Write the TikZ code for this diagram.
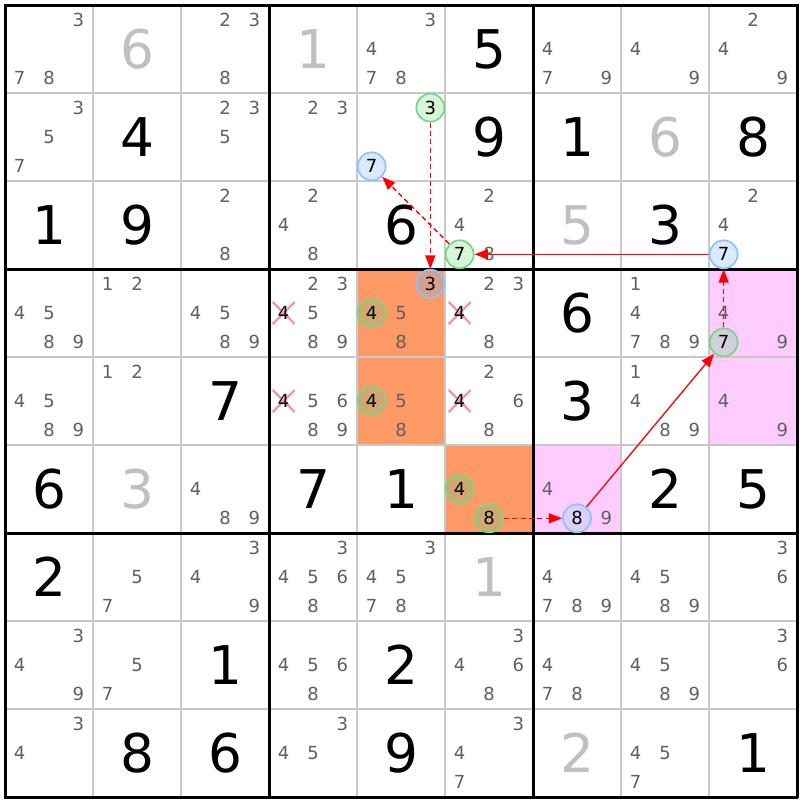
\documentclass[tikz,border=0pt]{standalone}
\usepackage{fontspec}
\setmainfont{DejaVu Sans}
\usetikzlibrary{arrows.meta}
\definecolor{candc}{RGB}{96,96,96}
\definecolor{givenc}{RGB}{192,192,192}
\definecolor{thinc}{RGB}{200,200,200}
\definecolor{orangebg}{RGB}{255,153,102}
\definecolor{pinkbg}{RGB}{255,204,255}
\definecolor{gstroke}{RGB}{120,215,130}
\definecolor{bstroke}{RGB}{140,195,250}
\definecolor{gfillw}{RGB}{214,245,218}
\definecolor{bfillw}{RGB}{218,234,252}
\definecolor{gfillo}{RGB}{208,168,112}
\definecolor{bfillo}{RGB}{214,160,144}
\definecolor{gfillp}{RGB}{210,208,220}
\definecolor{bfillp}{RGB}{218,208,250}
\definecolor{crossc}{RGB}{245,150,160}
\definecolor{linkc}{RGB}{255,0,0}
\tikzset{
  cand/.style={text=candc, inner sep=0pt, font=\fontsize{13.5}{13.5}\selectfont},
  candx/.style={text=black, inner sep=0pt, font=\fontsize{13.5}{13.5}\selectfont},
  bigb/.style={text=black, inner sep=0pt, font=\fontsize{40}{40}\selectfont},
  bigg/.style={text=givenc, inner sep=0pt, font=\fontsize{40}{40}\selectfont},
  ring/.style={circle, minimum size=21pt, inner sep=0pt, line width=1.3pt, text=black, font=\fontsize{13.5}{13.5}\selectfont},
  gring/.style={ring, draw=gstroke},
  bring/.style={ring, draw=bstroke},
  xmark/.style={draw=crossc, line width=1.7pt},
  strong/.style={draw=linkc, line width=1pt, -{Triangle[length=10pt,width=7.5pt]}},
  weak/.style={strong, dash pattern=on 3.75pt off 2.5pt},
}
\begin{document}
\begin{tikzpicture}[x=0.75pt,y=-0.75pt]
\fill[white] (0,0) rectangle (800,800);
\useasboundingbox (0,0) rectangle (800,800);
% highlighted cells
\fill[orangebg] (357,269) rectangle (445,445);
\fill[orangebg] (445,445) rectangle (533,533);
\fill[pinkbg] (709,269) rectangle (797,445);
\fill[pinkbg] (533,445) rectangle (621,533);
% thin grid
\foreach \i in {1,2,4,5,7,8}{
  \draw[thinc, line width=1.5pt] ({5+88*\i},5) -- ({5+88*\i},797);
  \draw[thinc, line width=1.5pt] (5,{5+88*\i}) -- (797,{5+88*\i});
}
% thick grid
\foreach \i in {0,3,6,9}{
  \draw[black, line width=2.25pt] ({5+88*\i},3.9) -- ({5+88*\i},798.1);
  \draw[black, line width=2.25pt] (3.9,{5+88*\i}) -- (798.1,{5+88*\i});
}
% big digits
\foreach \r/\c/\d/\s in {1/2/6/bigg,1/4/1/bigg,1/6/5/bigb,
  2/2/4/bigb,2/6/9/bigb,2/7/1/bigb,2/8/6/bigg,2/9/8/bigb,
  3/1/1/bigb,3/2/9/bigb,3/5/6/bigb,3/7/5/bigg,3/8/3/bigb,
  4/7/6/bigb,5/3/7/bigb,5/7/3/bigb,
  6/1/6/bigb,6/2/3/bigg,6/4/7/bigb,6/5/1/bigb,6/8/2/bigb,6/9/5/bigb,
  7/1/2/bigb,7/6/1/bigg,8/3/1/bigb,8/5/2/bigb,
  9/2/8/bigb,9/3/6/bigb,9/5/9/bigb,9/7/2/bigg,9/9/1/bigb}{
  \node[\s] (v\r\c) at ({5+88*(\c-1)+44},{5+88*(\r-1)+44}) {\d};
}
% candidates
\foreach \r/\c/\L in {1/1/{3,7,8},1/3/{2,3,8},1/5/{3,4,7,8},1/7/{4,7,9},1/8/{4,9},1/9/{2,4,9},
  2/1/{3,5,7},2/3/{2,3,5},2/4/{2,3},
  3/3/{2,8},3/4/{2,4,8},3/6/{2,4,8},3/9/{2,4},
  4/1/{4,5,8,9},4/2/{1,2},4/3/{4,5,8,9},4/4/{2,3,5,8,9},4/5/{5,8},4/6/{2,3,8},4/8/{1,4,7,8,9},4/9/{4,9},
  5/1/{4,5,8,9},5/2/{1,2},5/4/{5,6,8,9},5/5/{5,8},5/6/{2,6,8},5/8/{1,4,8,9},5/9/{4,9},
  6/3/{4,8,9},6/7/{4,9},
  7/2/{5,7},7/3/{3,4,9},7/4/{3,4,5,6,8},7/5/{3,4,5,7,8},7/7/{4,7,8,9},7/8/{4,5,8,9},7/9/{3,6},
  8/1/{3,4,9},8/2/{5,7},8/4/{4,5,6,8},8/6/{3,4,6,8},8/7/{4,7,8},8/8/{4,5,8,9},8/9/{3,6},
  9/1/{3,4},9/4/{3,4,5},9/6/{3,4,7},9/8/{4,5,7}}{
  \foreach \d in \L {
    \pgfmathsetmacro\px{5+88*(\c-1)+44+29.333*(mod(\d-1,3)-1)}
    \pgfmathsetmacro\py{5+88*(\r-1)+44+29.333*(floor((\d-1)/3)-1)}
    \node[cand] (n\r\c\d) at (\px,\py) {\d};
  }
}
% eliminated candidates
\foreach \px/\py/\nm in {283.67/313/a,283.67/401/b,459.67/313/c,459.67/401/d}{
  \draw[xmark] (\px-11,\py-11) -- (\px+11,\py+11);
  \draw[xmark] (\px-11,\py+11) -- (\px+11,\py-11);
  \node[candx] (x\nm) at (\px,\py) {4};
}
% circled candidates
\node[gring, fill=gfillw] (g1) at (430.33,107.67) {3};
\node[bring, fill=bfillw] (b1) at (371.67,166.33) {7};
\node[gring, fill=gfillw] (g2) at (459.67,254.33) {7};
\node[bring, fill=bfillw] (b2) at (723.67,254.33) {7};
\node[bring, fill=bfillo] (b3) at (430.33,283.67) {3};
\node[gring, fill=gfillo] (g3) at (371.67,313) {4};
\node[gring, fill=gfillo] (g4) at (371.67,401) {4};
\node[gring, fill=gfillp] (g5) at (723.67,342.33) {7};
\node[gring, fill=gfillo] (g6) at (459.67,489) {4};
\node[gring, fill=gfillo] (g7) at (489,518.33) {8};
\node[bring, fill=bfillp] (b4) at (577,518.33) {8};
% links
\draw[weak] (g1) -- (b3);
\draw[weak] (g2) -- (b1);
\draw[strong] (b2) -- (g2);
\draw[weak] (g5) -- (b2);
\draw[strong] (b4) -- (g5);
\draw[weak] (g7) -- (b4);
\end{tikzpicture}
\end{document}
